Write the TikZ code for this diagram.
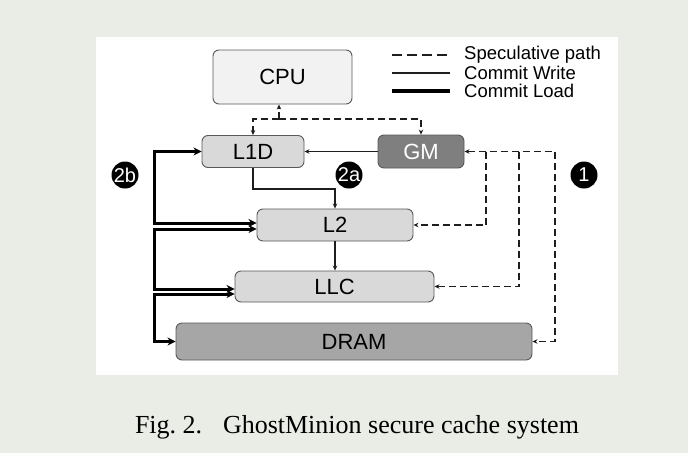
\documentclass[tikz,border=0pt]{standalone}
\usepackage{fontspec}
\setmainfont{Liberation Serif}
\newfontfamily\boxfont{Liberation Sans}
\usetikzlibrary{arrows.meta}
\definecolor{sage}{RGB}{233,237,229}
\definecolor{cpufill}{RGB}{242,242,242}
\definecolor{cachefill}{RGB}{217,217,217}
\definecolor{gmfill}{RGB}{127,127,127}
\definecolor{dramfill}{RGB}{166,166,166}
\definecolor{wire}{RGB}{30,30,30}
\tikzset{
  unit/.style={draw=black!65, line width=0.9pt, rounded corners=6pt, inner sep=0pt,
    font=\boxfont\fontsize{22}{22}\selectfont},
  spec/.style={draw=wire, line width=1.5pt, dash pattern=on 7pt off 4pt,
    >={Stealth[length=5pt,width=4.5pt]}},
  commit/.style={draw=wire, line width=1.1pt, >={Stealth[length=5pt,width=4.5pt]}},
  load/.style={draw=black, line width=3pt, >={Stealth[length=8pt,width=8pt]}},
  badge/.style={circle, fill=black, text=white, minimum size=27pt, inner sep=0pt,
    font=\boxfont\fontsize{20}{20}\selectfont},
  legendtext/.style={anchor=west, inner sep=0pt, font=\boxfont\fontsize{18.5}{18.5}\selectfont}
}
\begin{document}
\begin{tikzpicture}[x=1pt,y=-1pt]
\useasboundingbox (0,0) rectangle (688,453);
\fill[sage] (0,0) rectangle (688,453);
\fill[white] (96,37) rectangle (618,375);

% memory hierarchy
\node[unit, fill=cpufill, minimum width=139pt, minimum height=54pt] (CPU) at (282.5,77) {CPU};
\node[unit, fill=cachefill, minimum width=102pt, minimum height=32pt] (L1D) at (253,151.5) {L1D};
\node[unit, fill=gmfill, text=white, minimum width=86pt, minimum height=33pt] (GM) at (421,151.5) {GM};
\node[unit, fill=cachefill, minimum width=156pt, minimum height=32pt] (L2) at (335,225) {L2};
\node[unit, fill=cachefill, minimum width=199pt, minimum height=31pt] (LLC) at (334.5,286.5) {LLC};
\node[unit, fill=dramfill, minimum width=356pt, minimum height=37pt] (DRAM) at (354,341.5) {DRAM};

% step labels
\node[badge] (s1) at (584,175) {1};
\node[badge] (s2a) at (349,175) {2a};
\node[badge] (s2b) at (125,175) {2b};

% speculative path
\coordinate (cpusplit) at (279,119);
\coordinate (tapL2) at (486,151.5);
\coordinate (tapLLC) at (519,151.5);
\coordinate (tapDRAM) at (555,151.5);
\draw[spec,->] (cpusplit) -- (cpusplit |- CPU.south);
\draw[spec,->] (cpusplit) -| (L1D.north);
\draw[spec,->] (cpusplit) -| (GM.north);
\draw[spec,<->] (GM.east) -- (tapDRAM) |- (DRAM.east);
\draw[spec,->] (tapL2) |- (L2.east);
\draw[spec,->] (tapLLC) |- (LLC.east);

% commit write
\draw[commit,->] (GM.west) -- (L1D.east);
\draw[commit,->] (L1D.south) -- ++(0,21) -| (L2.north);
\draw[commit,->] (L2.south) -- (L2.south |- LLC.north);

% commit load
\coordinate (loadbus) at (154,0);
\draw[load,<->] (L1D.west) -| ([yshift=2pt]L2.west -| loadbus) -- ([yshift=2pt]L2.west);
\draw[load,<->] ([yshift=-4pt]L2.west) -| ([yshift=-2.5pt]LLC.west -| loadbus) -- ([yshift=-2.5pt]LLC.west);
\draw[load,<->] ([yshift=-7.5pt]LLC.west) -| (DRAM.west -| loadbus) -- (DRAM.west);

% legend
\draw[spec, dash pattern=on 10pt off 5pt] (392,55) -- (450,55);
\draw[commit, line width=1.3pt] (392,73) -- (450,73);
\draw[load, line width=3.5pt] (392,91) -- (450,91);
\node[legendtext] (legspec) at (464,55) {Speculative path};
\node[legendtext] (legwrite) at (464,73) {Commit Write};
\node[legendtext] (legload) at (464,91) {Commit Load};

% caption
\node[anchor=base, inner sep=0pt, font=\fontsize{26}{26}\selectfont] (caption) at (357,433)
  {Fig.~2.\hspace{0.8em}GhostMinion secure cache system};
\end{tikzpicture}
\end{document}
